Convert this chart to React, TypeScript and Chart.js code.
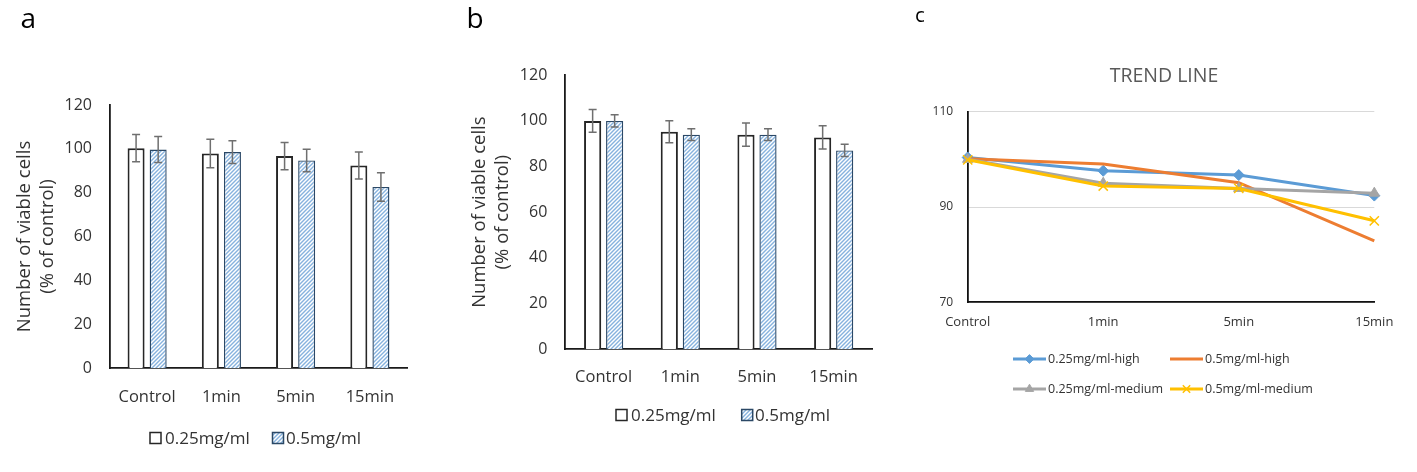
import React, { useEffect, useRef } from 'react';
import { Chart, registerables } from 'chart.js';
import { drawPoint } from 'chart.js/helpers';

Chart.register(...registerables);

// ---------- data ----------
const CATEGORIES = ['Control', '1min', '5min', '15min'];
const BAR_SERIES = ['0.25mg/ml', '0.5mg/ml'];
const Y_TITLE = ['Number of viable cells', '(% of control)'];

const A_LOW = [100.3, 97.9, 96.7, 92.4];
const A_LOW_ERR = [6.2, 6.5, 6.2, 6.2];
const A_HIGH = [99.7, 98.5, 94.7, 82.6];
const A_HIGH_ERR = [5.9, 5.2, 5.1, 6.5];

const B_LOW = [99.9, 95.2, 93.9, 92.7];
const B_LOW_ERR = [5.0, 4.8, 5.1, 5.1];
const B_HIGH = [99.9, 93.9, 93.9, 87.0];
const B_HIGH_ERR = [2.7, 2.6, 2.6, 2.7];

const BAR_Y_MIN = 0;
const BAR_Y_MAX = 120;
const BAR_Y_STEP = 20;

const TREND_TITLE = 'TREND LINE';
const TREND_SERIES = ['0.25mg/ml-high', '0.5mg/ml-high', '0.25mg/ml-medium', '0.5mg/ml-medium'];
const TREND_LOW_HIGH = [100.4, 97.6, 96.7, 92.4];
const TREND_HIGH_HIGH = [100.1, 99.0, 95.1, 82.9];
const TREND_LOW_MED = [100.0, 95.0, 93.9, 92.9];
const TREND_HIGH_MED = [99.9, 94.4, 93.9, 87.1];
const TREND_Y_MIN = 70;
const TREND_Y_MAX = 110;
const TREND_Y_STEP = 20;

// ---------- helpers ----------
const FONT = '"Open Sans", "DejaVu Sans", sans-serif';
const TEXT = '#333333';
const H = 472;

type Area = { left: number; top: number; right: number; bottom: number };

function makeHatch(): any {
  const c = document.createElement('canvas');
  const s = 4;
  c.width = s;
  c.height = s;
  const g = c.getContext('2d');
  if (!g) return '#9DC3E6';
  g.fillStyle = '#ffffff';
  g.fillRect(0, 0, s, s);
  g.strokeStyle = '#86b2de';
  g.lineWidth = 1.4;
  g.beginPath();
  g.moveTo(0, s);
  g.lineTo(s, 0);
  g.moveTo(-1, 1);
  g.lineTo(1, -1);
  g.moveTo(s - 1, s + 1);
  g.lineTo(s + 1, s - 1);
  g.stroke();
  return g.createPattern(c, 'repeat') || '#9DC3E6';
}

function errorBarPlugin(errors: number[][]) {
  return {
    id: 'errorBars',
    afterDatasetsDraw(chart: any) {
      const { ctx } = chart;
      const yScale = chart.scales.y;
      errors.forEach((errs, di) => {
        const meta = chart.getDatasetMeta(di);
        const values = chart.data.datasets[di].data as number[];
        meta.data.forEach((el: any, i: number) => {
          const v = values[i];
          const e = errs[i];
          const x = el.x;
          const y1 = yScale.getPixelForValue(v + e);
          const y2 = yScale.getPixelForValue(v - e);
          ctx.save();
          ctx.strokeStyle = '#6f6f6f';
          ctx.lineWidth = 1.5;
          ctx.beginPath();
          ctx.moveTo(x, y1);
          ctx.lineTo(x, y2);
          ctx.moveTo(x - 4, y1);
          ctx.lineTo(x + 4, y1);
          ctx.moveTo(x - 4, y2);
          ctx.lineTo(x + 4, y2);
          ctx.stroke();
          ctx.restore();
        });
      });
    },
  };
}

function barLegendPlugin(y: number, items: { boxX: number; textX: number }[]) {
  return {
    id: 'barLegend',
    afterDraw(chart: any) {
      const ctx = chart.ctx;
      chart.data.datasets.forEach((ds: any, i: number) => {
        const it = items[i];
        if (!it) return;
        ctx.save();
        ctx.fillStyle = ds.backgroundColor;
        ctx.fillRect(it.boxX, y - 5.5, 11, 11);
        ctx.strokeStyle = ds.borderColor;
        ctx.lineWidth = 1.5;
        ctx.strokeRect(it.boxX, y - 5.5, 11, 11);
        ctx.fillStyle = TEXT;
        ctx.font = `17px ${FONT}`;
        ctx.textBaseline = 'middle';
        ctx.textAlign = 'left';
        ctx.fillText(ds.label, it.textX, y + 1);
        ctx.restore();
      });
    },
  };
}

function trendExtrasPlugin() {
  const rows = [359, 389];
  const cols = [{ x0: 93, x1: 126, tx: 128 }, { x0: 250, x1: 283, tx: 285 }];
  return {
    id: 'trendExtras',
    afterDraw(chart: any) {
      const ctx = chart.ctx;
      ctx.save();
      ctx.fillStyle = '#595959';
      ctx.font = `19.5px ${FONT}`;
      ctx.textAlign = 'center';
      ctx.textBaseline = 'middle';
      ctx.fillText(TREND_TITLE, 244, 76);
      ctx.restore();
      chart.data.datasets.forEach((ds: any, i: number) => {
        const y = rows[Math.floor(i / 2)];
        const c = cols[i % 2];
        ctx.save();
        ctx.strokeStyle = ds.borderColor;
        ctx.lineWidth = ds.borderWidth;
        ctx.lineCap = 'butt';
        ctx.beginPath();
        ctx.moveTo(c.x0, y);
        ctx.lineTo(c.x1, y);
        ctx.stroke();
        if (ds.pointRadius > 0) {
          ctx.fillStyle = ds.pointBackgroundColor || ds.borderColor;
          ctx.strokeStyle = ds.pointBorderColor || ds.borderColor;
          ctx.lineWidth = ds.pointBorderWidth || 1;
          drawPoint(ctx, { pointStyle: ds.pointStyle, radius: ds.pointRadius * 0.8, rotation: 0, borderWidth: ds.pointBorderWidth || 1 } as any, (c.x0 + c.x1) / 2, y);
        }
        ctx.fillStyle = TEXT;
        ctx.font = `12.5px ${FONT}`;
        ctx.textAlign = 'left';
        ctx.textBaseline = 'middle';
        ctx.fillText(ds.label, c.tx, y + 0.5);
        ctx.restore();
      });
    },
  };
}

interface BarSpec {
  width: number;
  area: Area;
  titlePadTop: number;
  tickPad: number;
  xLabelPad: number;
  catPct: number;
  barPct: number;
  legendY: number;
  legendItems: { boxX: number; textX: number }[];
  low: number[];
  lowErr: number[];
  high: number[];
  highErr: number[];
}

function barConfig(spec: BarSpec): any {
  const hatch = makeHatch();
  return {
    type: 'bar',
    data: {
      labels: CATEGORIES,
      datasets: [
        {
          label: BAR_SERIES[0],
          data: spec.low,
          backgroundColor: '#ffffff',
          borderColor: '#262626',
          borderWidth: 2,
          categoryPercentage: spec.catPct,
          barPercentage: spec.barPct,
        },
        {
          label: BAR_SERIES[1],
          data: spec.high,
          backgroundColor: hatch,
          borderColor: '#2b4866',
          borderWidth: 1.4,
          categoryPercentage: spec.catPct,
          barPercentage: spec.barPct,
        },
      ],
    },
    options: {
      animation: false,
      responsive: true,
      maintainAspectRatio: false,
      events: [],
      layout: { padding: { left: 0, top: spec.area.top, right: spec.width - spec.area.right, bottom: 0 } },
      plugins: { legend: { display: false }, tooltip: { enabled: false } },
      scales: {
        x: {
          offset: true,
          grid: { display: false, drawTicks: false },
          border: { display: true, color: '#1a1a1a', width: 1.8 },
          ticks: { color: TEXT, font: { family: FONT, size: 16.5 }, padding: spec.xLabelPad, maxRotation: 0, autoSkip: false },
          afterFit: (s: any) => { s.height = H - spec.area.bottom; },
        },
        y: {
          min: BAR_Y_MIN,
          max: BAR_Y_MAX,
          grid: { display: false, drawTicks: false },
          border: { display: true, color: '#1a1a1a', width: 1.8 },
          ticks: { stepSize: BAR_Y_STEP, color: TEXT, font: { family: FONT, size: 16 }, padding: spec.tickPad },
          title: {
            display: true,
            text: Y_TITLE,
            color: TEXT,
            font: { family: FONT, size: 18.5, lineHeight: 1.25 },
            padding: { top: spec.titlePadTop, bottom: 0 },
          },
          afterFit: (s: any) => { s.width = spec.area.left; },
        },
      },
    },
    plugins: [errorBarPlugin([spec.lowErr, spec.highErr]), barLegendPlugin(spec.legendY, spec.legendItems)],
  };
}

function trendConfig(): any {
  const area: Area = { left: 47.7, top: 111.7, right: 454.3, bottom: 302.3 };
  const width = 497;
  return {
    type: 'line',
    data: {
      labels: CATEGORIES,
      datasets: [
        {
          label: TREND_SERIES[0], data: TREND_LOW_HIGH, borderColor: '#5B9BD5', backgroundColor: '#5B9BD5',
          borderWidth: 3, pointStyle: 'rectRot', pointRadius: 5.5, pointBorderWidth: 1, tension: 0, order: 4,
        },
        {
          label: TREND_SERIES[1], data: TREND_HIGH_HIGH, borderColor: '#ED7D31', backgroundColor: '#ED7D31',
          borderWidth: 3, pointRadius: 0, tension: 0, order: 3,
        },
        {
          label: TREND_SERIES[2], data: TREND_LOW_MED, borderColor: '#A5A5A5', backgroundColor: '#A5A5A5',
          borderWidth: 3, pointStyle: 'triangle', pointRadius: 6, pointBorderWidth: 1, tension: 0, order: 2,
        },
        {
          label: TREND_SERIES[3], data: TREND_HIGH_MED, borderColor: '#FFC000', backgroundColor: '#FFC000',
          borderWidth: 3, pointStyle: 'crossRot', pointRadius: 6.5, pointBorderWidth: 1.5, tension: 0, order: 1,
        },
      ],
    },
    options: {
      animation: false,
      responsive: true,
      maintainAspectRatio: false,
      events: [],
      layout: { padding: { left: 0, top: area.top, right: width - area.right, bottom: 0 } },
      plugins: { legend: { display: false }, tooltip: { enabled: false } },
      scales: {
        x: {
          offset: false,
          grid: { display: false, drawTicks: false },
          border: { display: true, color: '#111111', width: 1.8 },
          ticks: { color: TEXT, font: { family: FONT, size: 13 }, padding: 12, maxRotation: 0, autoSkip: false },
          afterFit: (s: any) => { s.height = H - area.bottom; },
        },
        y: {
          min: TREND_Y_MIN,
          max: TREND_Y_MAX,
          grid: { display: true, drawTicks: false, color: '#d9d9d9', lineWidth: 1 },
          border: { display: true, color: '#111111', width: 1.8 },
          ticks: { stepSize: TREND_Y_STEP, color: TEXT, font: { family: FONT, size: 12 }, padding: 14.5 },
          afterFit: (s: any) => { s.width = area.left; },
        },
      },
    },
    plugins: [trendExtrasPlugin()],
  };
}

function ChartBox(props: { left: number; width: number; make: () => any }) {
  const ref = useRef<HTMLCanvasElement | null>(null);
  useEffect(() => {
    if (!ref.current) return;
    const chart = new Chart(ref.current, props.make());
    return () => chart.destroy();
  }, []);
  return (
    <div style={{ position: 'absolute', left: props.left, top: 0, width: props.width, height: H }}>
      <canvas ref={ref} />
    </div>
  );
}

const specA: BarSpec = {
  width: 460,
  area: { left: 110, top: 105, right: 407, bottom: 368 },
  titlePadTop: 13.4,
  tickPad: 18,
  xLabelPad: 19,
  catPct: 0.595,
  barPct: 0.77,
  legendY: 438,
  legendItems: [{ boxX: 150, textX: 165 }, { boxX: 272.5, textX: 286 }],
  low: A_LOW,
  lowErr: A_LOW_ERR,
  high: A_HIGH,
  highErr: A_HIGH_ERR,
};

const specB: BarSpec = {
  width: 460,
  area: { left: 105.3, top: 75, right: 412, bottom: 349.3 },
  titlePadTop: 8.4,
  tickPad: 18,
  xLabelPad: 18,
  catPct: 0.574,
  barPct: 0.78,
  legendY: 415,
  legendItems: [{ boxX: 156, textX: 171 }, { boxX: 281.7, textX: 295 }],
  low: B_LOW,
  lowErr: B_LOW_ERR,
  high: B_HIGH,
  highErr: B_HIGH_ERR,
};

const letterStyle = (left: number, top: number, size: number): React.CSSProperties => ({
  position: 'absolute', left, top, fontSize: size, lineHeight: 1, fontFamily: FONT, color: '#000',
});

export default function App() {
  return (
    <div style={{ position: 'absolute', left: 0, top: 0, width: 1417, height: H, background: '#ffffff', overflow: 'hidden' }}>
      <ChartBox left={0} width={460} make={() => barConfig(specA)} />
      <ChartBox left={460} width={460} make={() => barConfig(specB)} />
      <ChartBox left={920} width={497} make={trendConfig} />
      <div style={letterStyle(20.5, 2.5, 28)}>a</div>
      <div style={letterStyle(466.5, 3, 28)}>b</div>
      <div style={letterStyle(915, 3.5, 20.5)}>c</div>
    </div>
  );
}
